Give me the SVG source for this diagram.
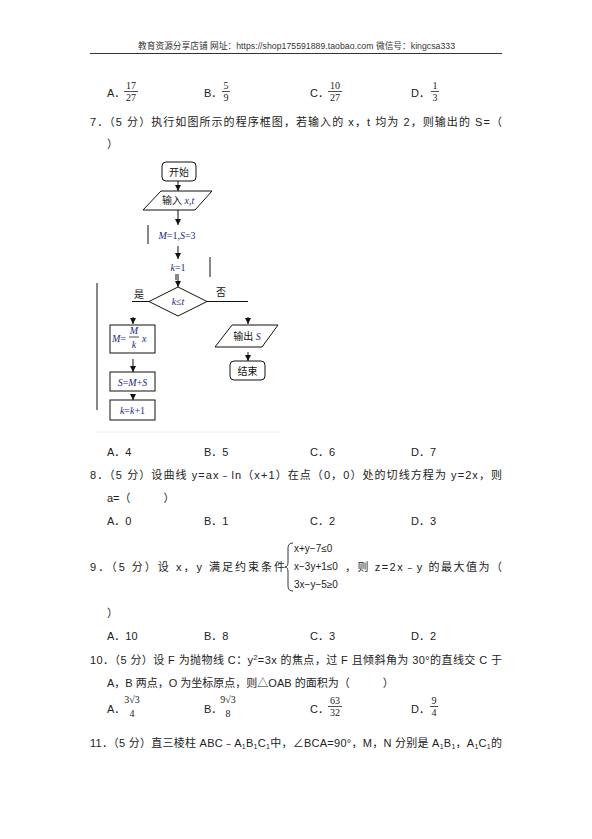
<svg xmlns="http://www.w3.org/2000/svg" width="592" height="839" viewBox="0 0 592 839">
<defs>
<style>
.t{font-family:"Liberation Sans","Noto Sans CJK SC",sans-serif;font-size:11px;fill:#222}
.h{font-family:"Liberation Sans","Noto Sans CJK SC",sans-serif;font-size:8.7px;fill:#333}
.f{font-family:"Liberation Serif","Noto Sans CJK SC",serif;font-size:10px;fill:#222}
.fc{font-family:"Liberation Serif","Noto Sans CJK SC",serif;font-size:10px;fill:#111}
.m{font-family:"Liberation Serif",serif;font-style:italic;font-size:10px;fill:#1a2a8a}
.sys{font-family:"Liberation Sans",sans-serif;font-size:10px;fill:#222}
.box{fill:#fff;stroke:#111;stroke-width:1}
.ln{fill:none;stroke:#111;stroke-width:1}
.bar{stroke:#222;stroke-width:0.8}
</style>
<marker id="ah" viewBox="0 0 6 6" refX="6" refY="3" markerWidth="6" markerHeight="6" orient="auto" markerUnits="userSpaceOnUse">
<path d="M0,0 L6,3 L0,6 z" fill="#111"/>
</marker>
</defs>
<rect width="592" height="839" fill="#fff"/>

<!-- header -->
<text class="h" x="296.5" y="49" text-anchor="middle" textLength="317" lengthAdjust="spacing">教育资源分享店铺 网址：https://shop175591889.taobao.com 微信号：kingcsa333</text>
<line x1="90" y1="53.5" x2="502" y2="53.5" stroke="#333" stroke-width="1"/>

<!-- options row 1 -->
<text class="t" x="107" y="97">A．</text>
<text class="f" x="131" y="89" text-anchor="middle">17</text>
<line class="bar" x1="124" y1="91.5" x2="138" y2="91.5"/>
<text class="f" x="131" y="101" text-anchor="middle">27</text>
<text class="t" x="204" y="97">B．</text>
<text class="f" x="226" y="89" text-anchor="middle">5</text>
<line class="bar" x1="222" y1="91.5" x2="230" y2="91.5"/>
<text class="f" x="226" y="101" text-anchor="middle">9</text>
<text class="t" x="310" y="97">C．</text>
<text class="f" x="335" y="89" text-anchor="middle">10</text>
<line class="bar" x1="328" y1="91.5" x2="342" y2="91.5"/>
<text class="f" x="335" y="101" text-anchor="middle">27</text>
<text class="t" x="411" y="97">D．</text>
<text class="f" x="435" y="89" text-anchor="middle">1</text>
<line class="bar" x1="431" y1="91.5" x2="439" y2="91.5"/>
<text class="f" x="435" y="101" text-anchor="middle">3</text>

<!-- Q7 -->
<text class="t" x="90" y="126" textLength="412" lengthAdjust="spacing">7．（5 分）执行如图所示的程序框图，若输入的 x，t 均为 2，则输出的 S=（</text>
<text class="t" x="107" y="148">）</text>

<!-- flowchart connectors -->
<g id="connectors">
<line class="ln" x1="178" y1="181" x2="178" y2="191" marker-end="url(#ah)"/>
<line class="ln" x1="178" y1="210" x2="178" y2="225" marker-end="url(#ah)"/>
<line class="ln" x1="178" y1="246" x2="178" y2="259" marker-end="url(#ah)"/>
<line class="ln" x1="178" y1="274" x2="178" y2="287" marker-end="url(#ah)"/>
<line class="ln" x1="176" y1="274" x2="176" y2="280"/>
<line class="ln" x1="149" y1="301.5" x2="132" y2="301.5"/>
<line class="ln" x1="207" y1="301.5" x2="248" y2="301.5"/>
<line class="ln" x1="133" y1="317" x2="133" y2="324" marker-end="url(#ah)"/>
<line class="ln" x1="133" y1="359" x2="133" y2="372" marker-end="url(#ah)"/>
<line class="ln" x1="133" y1="394" x2="133" y2="400" marker-end="url(#ah)"/>
<line class="ln" x1="248" y1="317" x2="248" y2="324" marker-end="url(#ah)"/>
<line class="ln" x1="248" y1="352" x2="248" y2="361" marker-end="url(#ah)"/>
<line class="ln" x1="97" y1="283" x2="97" y2="410"/>
<text class="fc" x="139" y="298" text-anchor="middle">是</text>
<text class="fc" x="221" y="296" text-anchor="middle">否</text>
</g>

<g id="n-start">
<rect class="box" x="162" y="162" width="34" height="19" rx="4"/>
<text class="fc" x="179" y="175.5" text-anchor="middle" font-size="11">开始</text>
</g>
<g id="n-input">
<polygon class="box" points="161,191 212,191 195,210 143,210"/>
<text class="fc" x="162" y="204">输入 <tspan class="m">x</tspan><tspan class="m">,t</tspan></text>
</g>
<g id="n-init">
<line class="ln" x1="148" y1="225" x2="148" y2="244"/>
<text class="m" x="177" y="239" text-anchor="middle">M<tspan font-style="normal">=1,</tspan>S<tspan font-style="normal">=3</tspan></text>
</g>
<g id="n-k1">
<line class="ln" x1="210" y1="257" x2="210" y2="277"/>
<text class="m" x="178" y="271" text-anchor="middle">k<tspan font-style="normal">=1</tspan></text>
</g>
<g id="n-cond">
<polygon class="box" points="178,287 207,301.5 178,316 149,301.5"/>
<text class="m" x="178" y="305" text-anchor="middle">k<tspan font-style="normal">≤</tspan>t</text>
</g>
<g id="n-m">
<rect class="box" x="110" y="325" width="45" height="28"/>
<text class="m" x="112" y="342">M<tspan font-style="normal">=</tspan></text>
<text class="m" x="134" y="334" text-anchor="middle">M</text>
<line class="bar" x1="129" y1="337" x2="139" y2="337"/>
<text class="m" x="134" y="348" text-anchor="middle">k</text>
<text class="m" x="142" y="342">x</text>
</g>
<g id="n-s">
<rect class="box" x="110" y="372" width="45" height="19"/>
<text class="m" x="132.5" y="385.5" text-anchor="middle">S<tspan font-style="normal">=</tspan>M<tspan font-style="normal">+</tspan>S</text>
</g>
<g id="n-k">
<rect class="box" x="110" y="400" width="45" height="20"/>
<text class="m" x="132.5" y="414" text-anchor="middle">k<tspan font-style="normal">=</tspan>k<tspan font-style="normal">+1</tspan></text>
</g>
<g id="n-output">
<polygon class="box" points="232,325 278,325 262,347 215,347"/>
<text class="fc" x="247" y="340" text-anchor="middle" font-size="11">输出 <tspan class="m">S</tspan></text>
</g>
<g id="n-end">
<rect class="box" x="230" y="361" width="35" height="19" rx="4"/>
<text class="fc" x="247.5" y="375" text-anchor="middle" font-size="11">结束</text>
</g>
<line x1="95" y1="432" x2="280" y2="432" stroke="#eee" stroke-width="1"/>

<!-- options Q7 -->
<text class="t" x="107" y="456">A．4</text>
<text class="t" x="204" y="456">B．5</text>
<text class="t" x="310" y="456">C．6</text>
<text class="t" x="411" y="456">D．7</text>

<!-- Q8 -->
<text class="t" x="90" y="479" textLength="412" lengthAdjust="spacing">8．（5 分）设曲线 y=ax﹣ln（x+1）在点（0，0）处的切线方程为 y=2x，则</text>
<text class="t" x="107" y="502">a=（　　　）</text>
<text class="t" x="107" y="525">A．0</text>
<text class="t" x="204" y="525">B．1</text>
<text class="t" x="310" y="525">C．2</text>
<text class="t" x="411" y="525">D．3</text>

<!-- Q9 -->
<text class="t" x="90" y="571" textLength="195" lengthAdjust="spacing">9．（5 分）设 x，y 满足约束条件</text>
<path d="M293,543 Q288,543 288,548 L288,562 Q288,567 285,567 Q288,567 288,572 L288,586 Q288,591 293,591" fill="none" stroke="#222" stroke-width="0.9"/>
<text class="sys" x="294" y="552">x+y−7≤0</text>
<text class="sys" x="294" y="570">x−3y+1≤0</text>
<text class="sys" x="294" y="588">3x−y−5≥0</text>
<text class="t" x="345" y="571" textLength="157" lengthAdjust="spacing">，则 z=2x﹣y 的最大值为（</text>
<text class="t" x="107" y="617">）</text>
<text class="t" x="107" y="640">A．10</text>
<text class="t" x="204" y="640">B．8</text>
<text class="t" x="310" y="640">C．3</text>
<text class="t" x="411" y="640">D．2</text>

<!-- Q10 -->
<text class="t" x="90" y="664" textLength="412" lengthAdjust="spacing">10．（5 分）设 F 为抛物线 C：y<tspan font-size="7" dy="-4">2</tspan><tspan dy="4">=3x 的焦点，过 F 且倾斜角为 30°的直线交 C 于</tspan></text>
<text class="t" x="107" y="687">A，B 两点，O 为坐标原点，则△OAB 的面积为（　　　）</text>
<text class="t" x="107" y="713">A．</text>
<text class="f" x="132" y="703" text-anchor="middle" font-size="9">3√3</text>
<text class="f" x="132" y="717" text-anchor="middle">4</text>
<text class="t" x="204" y="713">B．</text>
<text class="f" x="228" y="703" text-anchor="middle" font-size="9">9√3</text>
<text class="f" x="228" y="717" text-anchor="middle">8</text>
<text class="t" x="310" y="713">C．</text>
<text class="f" x="335" y="704" text-anchor="middle">63</text>
<line class="bar" x1="328" y1="706.5" x2="342" y2="706.5"/>
<text class="f" x="335" y="716" text-anchor="middle">32</text>
<text class="t" x="411" y="713">D．</text>
<text class="f" x="434" y="704" text-anchor="middle">9</text>
<line class="bar" x1="430" y1="706.5" x2="438" y2="706.5"/>
<text class="f" x="434" y="716" text-anchor="middle">4</text>

<!-- Q11 -->
<text class="t" x="90" y="747" textLength="412" lengthAdjust="spacing">11．（5 分）直三棱柱 ABC﹣A<tspan font-size="7" dy="2">1</tspan><tspan dy="-2">B</tspan><tspan font-size="7" dy="2">1</tspan><tspan dy="-2">C</tspan><tspan font-size="7" dy="2">1</tspan><tspan dy="-2">中，∠BCA=90°，M，N 分别是 A</tspan><tspan font-size="7" dy="2">1</tspan><tspan dy="-2">B</tspan><tspan font-size="7" dy="2">1</tspan><tspan dy="-2">，A</tspan><tspan font-size="7" dy="2">1</tspan><tspan dy="-2">C</tspan><tspan font-size="7" dy="2">1</tspan><tspan dy="-2">的</tspan></text>
</svg>
